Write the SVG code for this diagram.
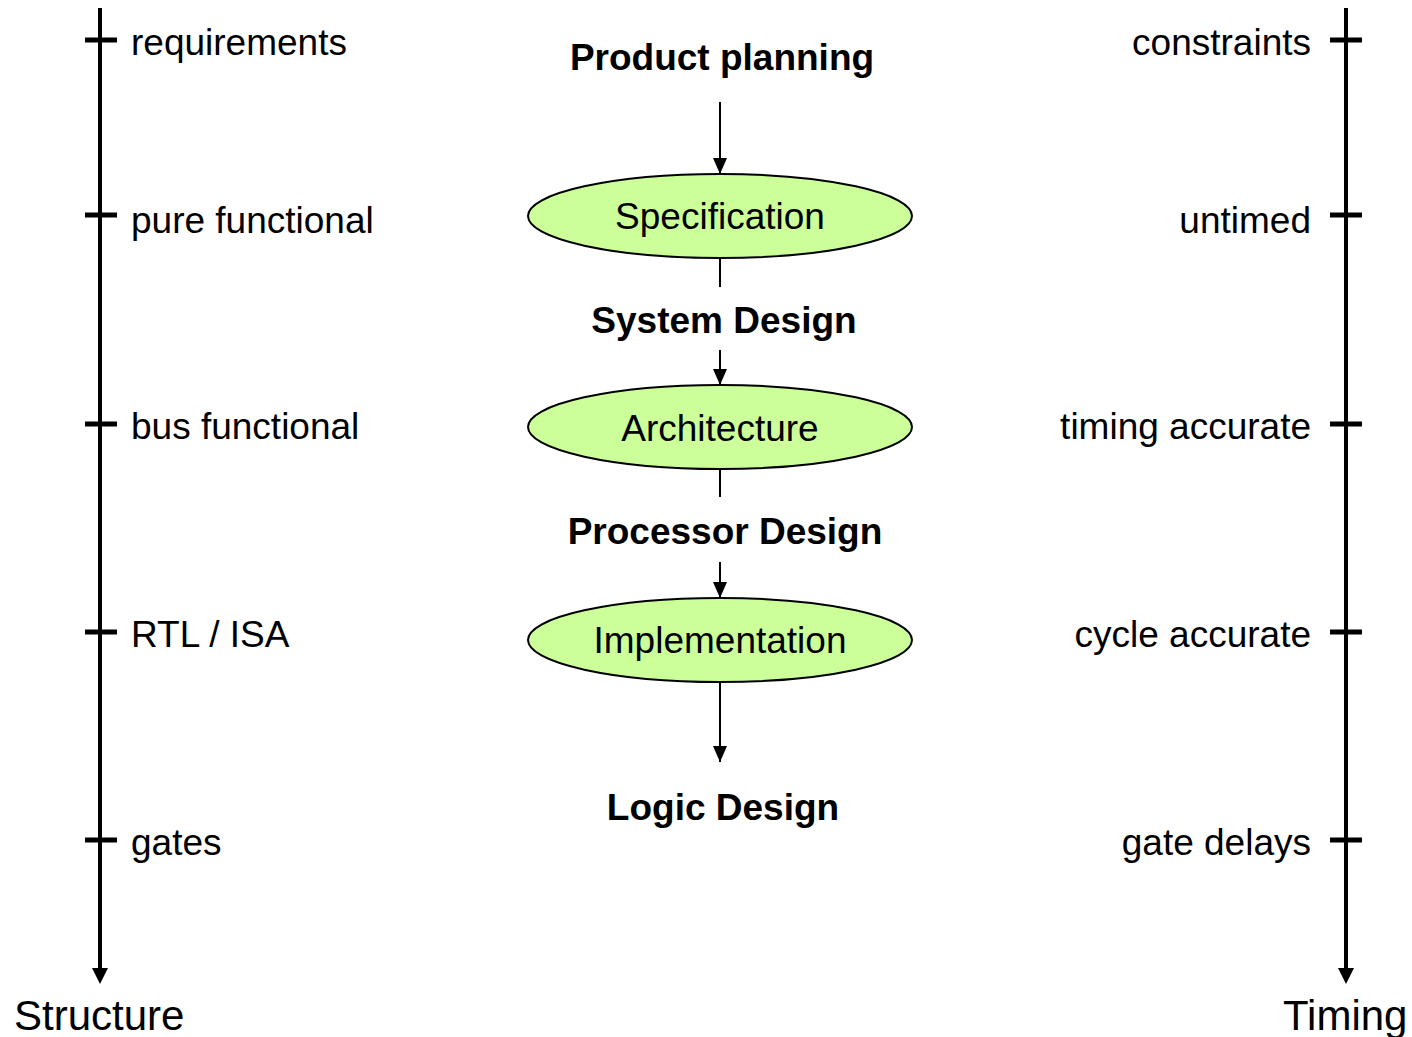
<svg xmlns="http://www.w3.org/2000/svg" width="1412" height="1037" viewBox="0 0 1412 1037">
<style>
text{font-family:"Liberation Sans",Arial,sans-serif;fill:#000}
.lab{font-size:37px}
.ttl{font-size:37px;font-weight:bold;text-anchor:middle}
.ax{font-size:42px}
.node{fill:#CCFF99;stroke:#000;stroke-width:2}
.nt{font-size:37px;text-anchor:middle}
.axis{stroke:#000;stroke-width:4;fill:none}
.tick{stroke:#000;stroke-width:5;fill:none}
.flow{stroke:#000;stroke-width:2;fill:none}
</style>
<defs>
<marker id="ah" markerUnits="userSpaceOnUse" markerWidth="16" markerHeight="16" viewBox="0 0 16 16" refX="16" refY="8" orient="auto"><path d="M0,1 L16,8 L0,15 Z" fill="#000"/></marker>
</defs>
<g id="axis-structure">
<line class="axis" x1="100" y1="8" x2="100" y2="968"/>
<path d="M92,968 L108,968 L100,984 Z" fill="#000"/>
<path class="tick" d="M85,40 H117 M85,215 H117 M85,424 H117 M85,632 H117 M85,840 H117"/>
<text class="lab" x="131" y="55">requirements</text>
<text class="lab" x="131" y="233">pure functional</text>
<text class="lab" x="131" y="439">bus functional</text>
<text class="lab" x="131" y="647">RTL / ISA</text>
<text class="lab" x="131" y="855">gates</text>
<text class="ax" x="14" y="1030">Structure</text>
</g>
<g id="axis-timing">
<line class="axis" x1="1346" y1="8" x2="1346" y2="968"/>
<path d="M1338,968 L1354,968 L1346,984 Z" fill="#000"/>
<path class="tick" d="M1330,40 H1362 M1330,215 H1362 M1330,424 H1362 M1330,632 H1362 M1330,840 H1362"/>
<g style="text-anchor:end">
<text class="lab" x="1311" y="55">constraints</text>
<text class="lab" x="1311" y="233">untimed</text>
<text class="lab" x="1311" y="439">timing accurate</text>
<text class="lab" x="1311" y="647">cycle accurate</text>
<text class="lab" x="1311" y="855">gate delays</text>
</g>
<text class="ax" x="1283" y="1030">Timing</text>
</g>
<g id="label-product-planning"><text class="ttl" x="722" y="70">Product planning</text></g>
<g id="label-system-design"><text class="ttl" x="724" y="333">System Design</text></g>
<g id="label-processor-design"><text class="ttl" x="725" y="544">Processor Design</text></g>
<g id="label-logic-design"><text class="ttl" x="723" y="820">Logic Design</text></g>
<g id="node-specification">
<ellipse class="node" cx="720" cy="216" rx="192" ry="42"/>
<text class="nt" x="720" y="229">Specification</text>
</g>
<g id="node-architecture">
<ellipse class="node" cx="720" cy="427" rx="192" ry="42"/>
<text class="nt" x="720" y="441">Architecture</text>
</g>
<g id="node-implementation">
<ellipse class="node" cx="720" cy="640" rx="192" ry="42"/>
<text class="nt" x="720" y="653">Implementation</text>
</g>
<g id="connectors">
<line class="flow" x1="720" y1="102" x2="720" y2="174" marker-end="url(#ah)"/>
<line class="flow" x1="720" y1="258" x2="720" y2="287"/>
<line class="flow" x1="720" y1="350" x2="720" y2="385" marker-end="url(#ah)"/>
<line class="flow" x1="720" y1="469" x2="720" y2="497"/>
<line class="flow" x1="720" y1="562" x2="720" y2="598" marker-end="url(#ah)"/>
<line class="flow" x1="720" y1="682" x2="720" y2="762" marker-end="url(#ah)"/>
</g>
</svg>
